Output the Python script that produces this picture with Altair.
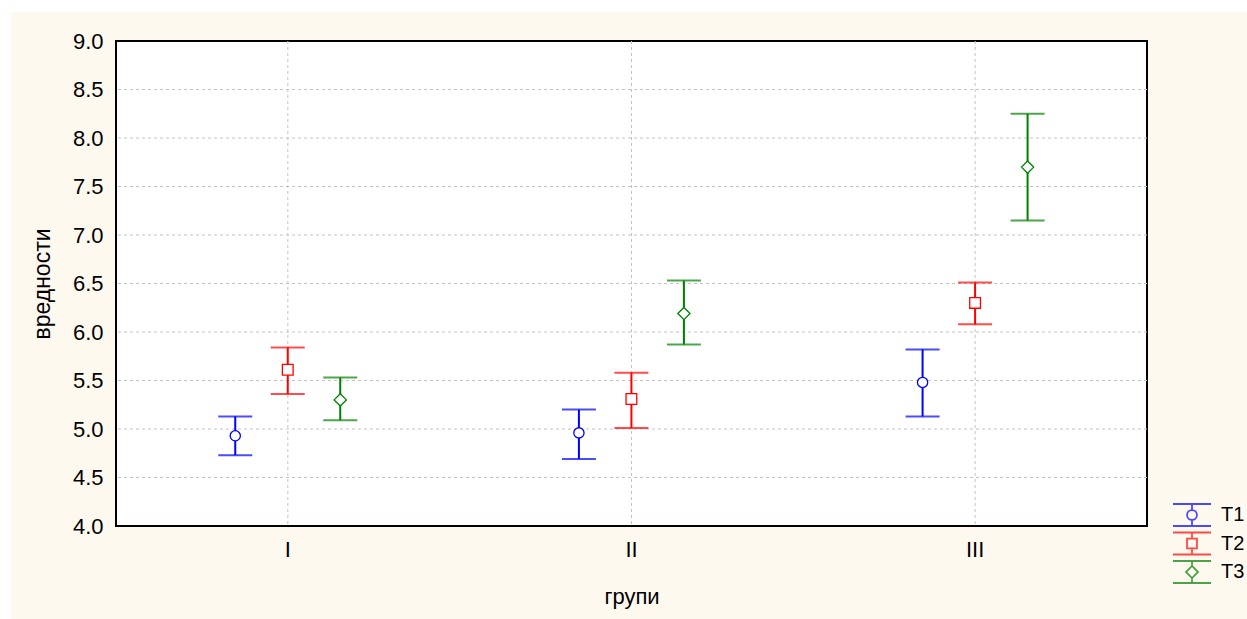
import altair as alt
import pandas as pd

# Categories and series
groups = ["I", "II", "III"]
series = ["T1", "T2", "T3"]
colors = ["#0000FF", "#FF0000", "#008000"]

# Means with upper / lower interval limits, one list per series (groups I, II, III)
mean_t1 = [4.93, 4.96, 5.48]
mean_t2 = [5.61, 5.31, 6.30]
mean_t3 = [5.30, 6.19, 7.70]
upper_t1 = [5.13, 5.20, 5.82]
upper_t2 = [5.84, 5.58, 6.51]
upper_t3 = [5.53, 6.53, 8.25]
lower_t1 = [4.73, 4.69, 5.13]
lower_t2 = [5.36, 5.01, 6.08]
lower_t3 = [5.09, 5.87, 7.15]

# Axis ticks
y_ticks = [4.0, 4.5, 5.0, 5.5, 6.0, 6.5, 7.0, 7.5, 8.0, 8.5, 9.0]
y_grid = [4.5, 5.0, 5.5, 6.0, 6.5, 7.0, 7.5, 8.0, 8.5]

rows = []
for s, ms, us, ls in zip(series, [mean_t1, mean_t2, mean_t3],
                         [upper_t1, upper_t2, upper_t3],
                         [lower_t1, lower_t2, lower_t3]):
    for g, m, u, l in zip(groups, ms, us, ls):
        rows.append({"group": g, "series": s, "mean": m, "hi": u, "lo": l})
df = pd.DataFrame(rows)
grid_df = pd.DataFrame({"v": y_grid})
group_df = pd.DataFrame({"group": groups})
key_df = pd.DataFrame({"key": series})

W, H = 1031, 485
PAD = {"left": 116, "top": 41, "right": 100, "bottom": 93}
CREAM = "#FEF9EF"
FONT = "Liberation Sans"
FS = 22

x_axis = alt.Axis(title="групи", labelAngle=0, labelFontSize=FS, labelFont=FONT,
                  labelColor="black", labelPadding=13, ticks=False, domain=False,
                  grid=False, titleFont=FONT, titleFontSize=FS, titleFontWeight="normal",
                  titleColor="black", titlePadding=26, zindex=1)
y_axis = alt.Axis(title="вредности", values=y_ticks, format=".1f", labelFontSize=FS,
                  labelFont=FONT, labelColor="black", labelPadding=13, ticks=False,
                  domain=False, grid=False, titleFont=FONT, titleFontSize=FS + 1,
                  titleFontWeight="normal", titleColor="black", titlePadding=18, zindex=1)

x_scale = alt.Scale(domain=groups, paddingInner=0, paddingOuter=0)
y_scale = alt.Scale(domain=[4, 9], nice=False, zero=False)
# series sit about 52 px apart inside each group band
off_scale = alt.Scale(domain=series, paddingInner=0, paddingOuter=0, range=[93, 250.5])

X = alt.X("group:N", scale=x_scale, axis=x_axis)
XO = alt.XOffset("series:N", scale=off_scale)
# series colours for the drawn intervals (domain taken from the data, T1..T3)
C = alt.Color("series:N", scale=alt.Scale(range=colors), legend=None)

one_row = alt.Data(values=[{}])

# Page background and white plotting area with its frame
page = alt.Chart(one_row).mark_rect(fill=CREAM).encode(
    x=alt.value(11 - PAD["left"]), x2=alt.value(W + PAD["right"]),
    y=alt.value(12 - PAD["top"]), y2=alt.value(H + PAD["bottom"]))
frame = alt.Chart(one_row).mark_rect(fill="white", stroke="black", strokeWidth=2).encode(
    x=alt.value(0), x2=alt.value(W), y=alt.value(0), y2=alt.value(H))

# Dotted grid
hgrid = alt.Chart(grid_df).mark_rule(color="#c4c4c4", strokeWidth=1, strokeDash=[3, 3]).encode(
    y=alt.Y("v:Q", scale=y_scale, axis=y_axis))
vgrid = alt.Chart(group_df).mark_rule(color="#c4c4c4", strokeWidth=1, strokeDash=[3, 3]).encode(
    x=X, y=alt.value(0), y2=alt.value(H))

base = alt.Chart(df)

bars = base.mark_rule(strokeWidth=2).encode(
    x=X, xOffset=XO,
    y=alt.Y("lo:Q", scale=y_scale, axis=y_axis), y2="hi:Q", color=C)
caps_hi = base.mark_tick(size=34, thickness=2, orient="horizontal").encode(
    x=X, xOffset=XO, y=alt.Y("hi:Q", scale=y_scale, axis=y_axis), color=C)
caps_lo = base.mark_tick(size=34, thickness=2, orient="horizontal").encode(
    x=X, xOffset=XO, y=alt.Y("lo:Q", scale=y_scale, axis=y_axis), color=C)

def markers(name, shape, size):
    return base.transform_filter(alt.datum.series == name).mark_point(
        shape=shape, size=size, filled=False, fill="white", fillOpacity=1,
        strokeWidth=1.3, opacity=1).encode(
        x=X, xOffset=XO, y=alt.Y("mean:Q", scale=y_scale, axis=y_axis), color=C)

pts = [markers("T1", "circle", 105), markers("T2", "square", 115), markers("T3", "diamond", 150)]

# Legend symbols: interval with caps and the series marker
legend_paths = [
    "M-1.73,-1H1.73M-1.73,1H1.73M0,-1V-0.45M0,0.45V1"
    "M0.45,0A0.45,0.45,0,1,1,-0.45,0A0.45,0.45,0,1,1,0.45,0Z",
    "M-1.73,-1H1.73M-1.73,1H1.73M0,-1V-0.45M0,0.45V1"
    "M-0.45,-0.45H0.45V0.45H-0.45Z",
    "M-1.73,-1H1.73M-1.73,1H1.73M0,-1V-0.55M0,0.55V1"
    "M0,-0.55L0.55,0L0,0.55L-0.55,0Z",
]
leg = alt.Legend(title=None, orient="none", legendX=1064, legendY=462, padding=0,
                 symbolSize=484, symbolStrokeWidth=1.8, labelFontSize=20, labelFont=FONT,
                 labelColor="black", labelOffset=17, rowPadding=-1.5)
# key layer: carries the legend only, its own points are parked outside the page
legend_layer = alt.Chart(key_df).mark_point(filled=False, strokeWidth=1.8).encode(
    x=alt.value(-2000), y=alt.value(-2000),
    stroke=alt.Stroke("key:N", scale=alt.Scale(domain=series, range=colors), legend=leg),
    shape=alt.Shape("key:N", scale=alt.Scale(domain=series, range=legend_paths), legend=leg))

chart = alt.layer(page, frame, hgrid, vgrid, bars, caps_hi, caps_lo, *pts, legend_layer).properties(
    width=W, height=H, padding=PAD, background="white",
    autosize=alt.AutoSizeParams(type="none")
).configure_view(stroke="black", strokeWidth=2)

chart.save("out.html", embed_options={"renderer": "svg", "actions": False})
